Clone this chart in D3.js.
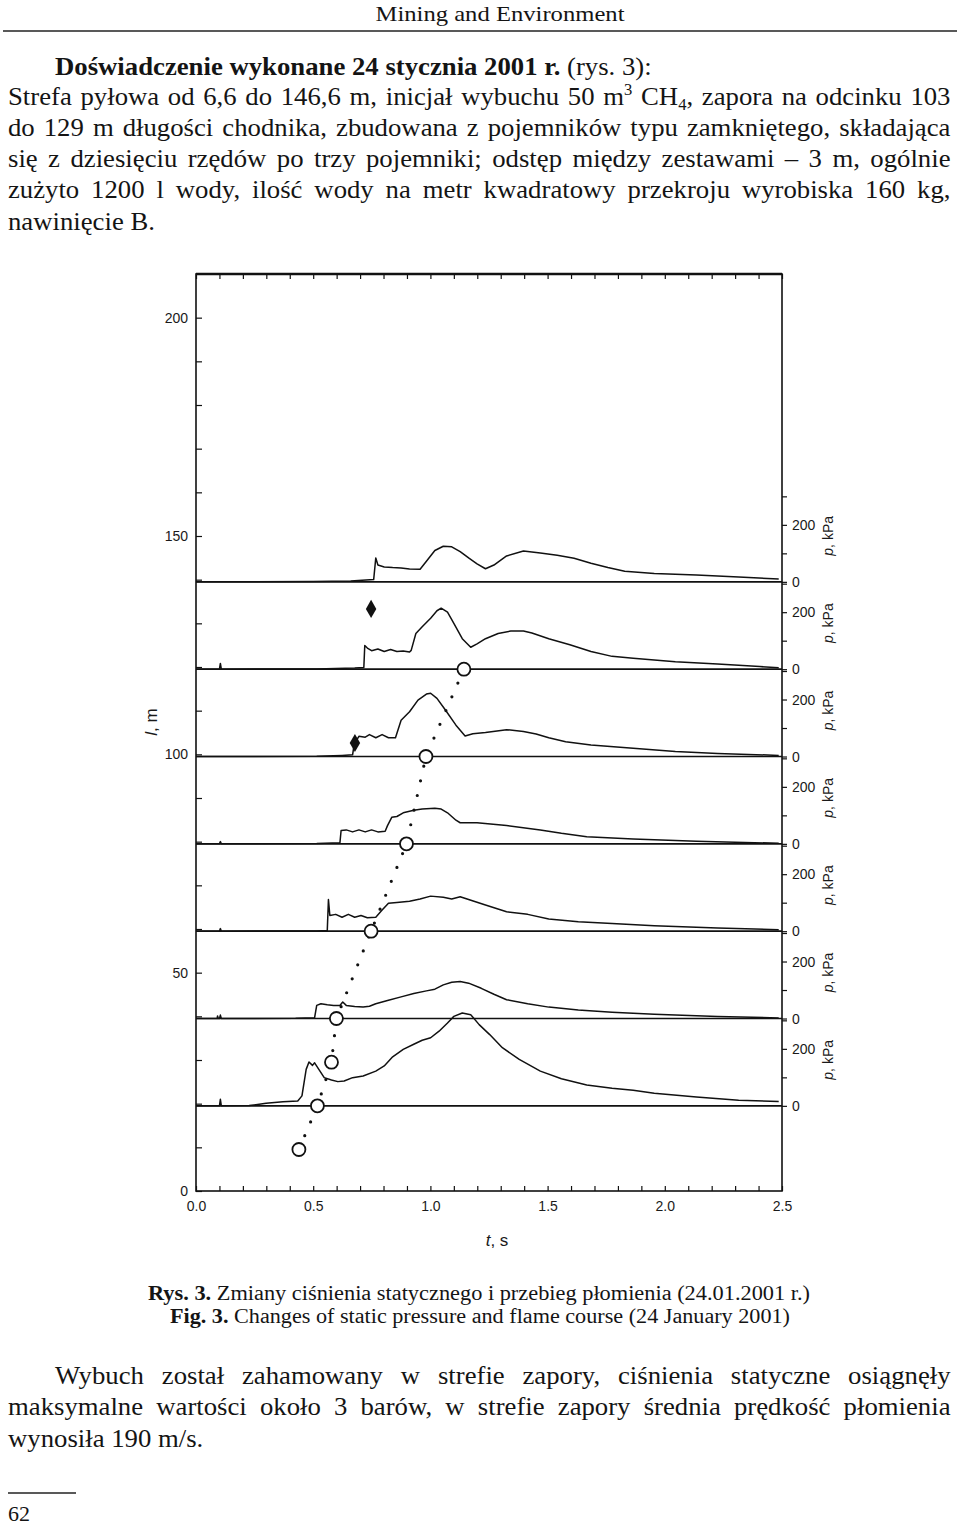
<!DOCTYPE html>
<html>
<head>
<meta charset="utf-8">
<script src="https://cdn.jsdelivr.net/npm/d3@7"></script>
<style>
body { margin: 0; background: #fff; }
svg { display: block; }
.page text { font-family: "Liberation Serif", "Times New Roman", serif; fill: #141414; }
.chart text { font-family: "Liberation Sans", Arial, sans-serif; fill: #1a1a1a; }
.chart .domain { display: none; }
.chart .tick line { stroke: #111; stroke-width: 1.2; }
</style>
</head>
<body>
<svg id="page" width="960" height="1525"></svg>
<script>
// axes
var tTicks = [0.0, 0.5, 1.0, 1.5, 2.0, 2.5];
var lTicks = [0, 50, 100, 150, 200];
var pTicks = [0, 100, 200, 300];
var pLabels = [0, 200];

// gauge positions along the gallery (m), top trace first
var gaugeL = [139.5, 119.5, 99.5, 79.5, 59.5, 39.5, 19.5];

// pressure records [t s, p kPa]
var p1 = [[0,0],[0.50,1],[0.66,3],[0.758,8],[0.767,84],[0.776,59],[0.803,52],[0.839,50],[0.875,49],[0.911,45],[0.956,44],[0.983,72],[1.019,110],[1.055,125],[1.091,123],[1.127,106],[1.163,84],[1.199,63],[1.235,46],[1.271,59],[1.325,91],[1.397,108],[1.469,101],[1.541,93],[1.613,83],[1.685,65],[1.757,50],[1.829,37],[1.955,29],[2.135,24],[2.315,17],[2.486,10]];
var p2 = [[0,0],[0.100,0],[0.104,20],[0.108,0],[0.515,1],[0.677,4],[0.716,6],[0.720,83],[0.731,74],[0.749,65],[0.776,71],[0.803,62],[0.830,69],[0.857,62],[0.884,64],[0.911,60],[0.918,66],[0.938,125],[0.965,149],[1.001,179],[1.028,205],[1.046,214],[1.073,200],[1.100,161],[1.136,107],[1.172,77],[1.199,89],[1.235,107],[1.289,125],[1.343,134],[1.397,134],[1.433,127],[1.505,107],[1.595,86],[1.685,62],[1.775,45],[1.865,38],[2.045,26],[2.225,18],[2.405,9],[2.486,5]];
var p3 = [[0,0],[0.515,1],[0.623,4],[0.668,6],[0.673,33],[0.680,51],[0.695,71],[0.722,68],[0.740,77],[0.767,66],[0.794,77],[0.821,66],[0.851,66],[0.875,127],[0.911,157],[0.947,198],[0.983,219],[1.001,222],[1.028,204],[1.064,163],[1.109,110],[1.148,72],[1.181,80],[1.235,84],[1.325,94],[1.397,88],[1.451,79],[1.505,66],[1.577,52],[1.685,40],[1.865,29],[2.045,18],[2.225,11],[2.486,4]];
var p4 = [[0,0],[0.100,0],[0.104,8],[0.108,0],[0.515,1],[0.614,4],[0.619,47],[0.641,49],[0.668,42],[0.695,49],[0.722,42],[0.749,49],[0.776,42],[0.807,44],[0.817,64],[0.835,93],[0.857,96],[0.884,109],[0.929,118],[0.965,122],[1.019,125],[1.046,122],[1.073,109],[1.109,83],[1.127,74],[1.199,74],[1.325,64],[1.469,49],[1.559,37],[1.667,25],[1.865,17],[2.135,9],[2.486,2]];
var p5 = [[0,0],[0.100,0],[0.104,9],[0.108,0],[0.515,1],[0.560,2],[0.565,111],[0.571,55],[0.596,59],[0.623,49],[0.650,59],[0.677,49],[0.704,55],[0.731,47],[0.767,49],[0.794,74],[0.821,98],[0.857,101],[0.911,105],[0.956,113],[1.001,123],[1.055,119],[1.091,113],[1.127,121],[1.163,111],[1.235,92],[1.325,68],[1.415,59],[1.505,43],[1.631,33],[1.775,27],[1.955,19],[2.225,11],[2.486,5]];
var p6 = [[0,0],[0.090,0],[0.092,9],[0.095,0],[0.100,0],[0.104,12],[0.108,0],[0.425,1],[0.506,3],[0.515,46],[0.533,52],[0.560,48],[0.587,46],[0.614,46],[0.626,58],[0.641,46],[0.677,42],[0.713,40],[0.740,43],[0.767,52],[0.821,64],[0.875,76],[0.929,88],[0.983,97],[1.019,103],[1.055,118],[1.091,127],[1.127,130],[1.163,124],[1.217,106],[1.271,85],[1.325,66],[1.415,52],[1.505,40],[1.631,30],[1.775,22],[1.955,15],[2.225,7],[2.486,2]];
var p7 = [[0,0],[0.100,0],[0.104,23],[0.108,0],[0.227,1],[0.299,9],[0.371,14],[0.434,17],[0.452,35],[0.470,128],[0.482,154],[0.497,142],[0.506,151],[0.524,128],[0.547,99],[0.578,91],[0.605,85],[0.632,87],[0.668,99],[0.713,105],[0.767,122],[0.803,140],[0.839,172],[0.884,198],[0.929,216],[0.965,230],[1.001,239],[1.037,262],[1.073,291],[1.100,314],[1.136,326],[1.172,320],[1.208,285],[1.253,250],[1.307,204],[1.379,163],[1.469,122],[1.559,95],[1.667,73],[1.775,62],[1.865,55],[1.955,44],[2.135,31],[2.315,20],[2.486,15]];
var traces = [p1, p2, p3, p4, p5, p6, p7];

// flame front (open circles) and the two filled marks
var flameT = [0.439, 0.518, 0.578, 0.599, 0.747, 0.898, 0.981, 1.143];
var flameL = [9.5, 19.5, 29.5, 39.5, 59.5, 79.5, 99.5, 119.5];
var diamondT = [0.678, 0.747];
var diamondL = [102.6, 133.3];

var svg = d3.select("#page");
svg.append("rect").attr("width", 960).attr("height", 1525).attr("fill", "#fff");

// ---------- page text ----------
var page = svg.append("g").attr("class", "page");

page.append("text").attr("x", 500).attr("y", 21).attr("text-anchor", "middle")
  .attr("font-size", 22).attr("textLength", 249).attr("lengthAdjust", "spacingAndGlyphs")
  .text("Mining and Environment");
page.append("line").attr("x1", 3).attr("x2", 957).attr("y1", 31).attr("y2", 31)
  .attr("stroke", "#222").attr("stroke-width", 1.6);

var FS = 26;
var body = [
  {x: 55, y: 75, w: null, segs: [{t: "Doświadczenie wykonane 24 stycznia 2001 r.", b: 1}, {t: " (rys. 3):"}]},
  {x: 8, y: 105, w: 943, segs: [{t: "Strefa pyłowa od 6,6 do 146,6 m, inicjał wybuchu 50 m"}, {t: "3", sup: 1}, {t: " CH"}, {t: "4", sub: 1}, {t: ", zapora na odcinku 103"}]},
  {x: 8, y: 136, w: 943, segs: [{t: "do 129 m długości chodnika, zbudowana z pojemników typu zamkniętego, składająca"}]},
  {x: 8, y: 167, w: 943, segs: [{t: "się z dziesięciu rzędów po trzy pojemniki; odstęp między zestawami – 3 m, ogólnie"}]},
  {x: 8, y: 198, w: 943, segs: [{t: "zużyto 1200 l wody, ilość wody na metr kwadratowy przekroju wyrobiska 160 kg,"}]},
  {x: 8, y: 230, w: null, segs: [{t: "nawinięcie B."}]},
  {x: 55, y: 1384, w: 896, segs: [{t: "Wybuch został zahamowany w strefie zapory, ciśnienia statyczne osiągnęły"}]},
  {x: 8, y: 1415, w: 943, segs: [{t: "maksymalne wartości około 3 barów, w strefie zapory średnia prędkość płomienia"}]},
  {x: 8, y: 1447, w: null, segs: [{t: "wynosiła 190 m/s."}]}
];

var bodyG = page.append("g");
body.forEach(function(line) {
  var t = bodyG.append("text").attr("y", line.y).attr("font-size", FS);
  var shift = 0;
  line.segs.forEach(function(s) {
    var sp = t.append("tspan").text(s.t);
    var want = s.sup ? -0.38 * FS : (s.sub ? 0.2 * FS : 0);
    if (want !== shift) { sp.attr("dy", want - shift); shift = want; }
    if (s.sup || s.sub) sp.attr("font-size", FS * 0.62);
    if (s.b) sp.attr("font-weight", "bold");
  });
  line.node = t;
  line.nat = t.node().getComputedTextLength();
});
// the scan is a bit condensed: squeeze so the tightest justified line fits
var sx = d3.min(body.filter(function(d) { return d.w; }), function(d) { return d.w / d.nat; }) * 0.975;
bodyG.attr("transform", "scale(" + sx + ",1)");
body.forEach(function(line) {
  line.node.attr("x", line.x / sx);
  if (line.w) {
    var n = (line.node.text().match(/ /g) || []).length;
    line.node.attr("word-spacing", (line.w / sx - line.nat) / n);
  }
});

// caption
var cap = page.append("g");
var c1 = cap.append("text").attr("x", 479).attr("y", 1300).attr("text-anchor", "middle")
  .attr("font-size", 20).attr("textLength", 662).attr("lengthAdjust", "spacingAndGlyphs");
c1.append("tspan").attr("font-weight", "bold").text("Rys. 3.");
c1.append("tspan").text(" Zmiany ciśnienia statycznego i przebieg płomienia (24.01.2001 r.)");
var c2 = cap.append("text").attr("x", 480).attr("y", 1323).attr("text-anchor", "middle")
  .attr("font-size", 20).attr("textLength", 620).attr("lengthAdjust", "spacingAndGlyphs");
c2.append("tspan").attr("font-weight", "bold").text("Fig. 3.");
c2.append("tspan").text(" Changes of static pressure and flame course (24 January 2001)");

page.append("line").attr("x1", 8).attr("x2", 76).attr("y1", 1493).attr("y2", 1493)
  .attr("stroke", "#222").attr("stroke-width", 1.4);
page.append("text").attr("x", 8).attr("y", 1521).attr("font-size", 22).text("62");

// ---------- chart ----------
var chart = svg.append("g").attr("class", "chart");
var x = d3.scaleLinear().domain([0, 2.5]).range([196, 782]);
var y = d3.scaleLinear().domain([0, 210]).range([1191, 274]);
var pz = d3.scaleLinear().domain([0, 200]).range([0, 57]);

function isHalf(v) { return Math.abs(v * 2 - Math.round(v * 2)) < 1e-6; }
var tMinor = d3.range(0, 26).map(function(i) { return i / 10; });

chart.append("g").attr("transform", "translate(0,1191)")
  .call(d3.axisBottom(x).tickValues(tMinor).tickSize(-5).tickPadding(10)
    .tickFormat(function(d) { return isHalf(d) && tTicks.indexOf(Math.round(d * 2) / 2) >= 0 ? d3.format(".1f")(d) : ""; }))
  .attr("font-size", 14);
chart.append("g").attr("transform", "translate(0,274)")
  .call(d3.axisTop(x).tickValues(tMinor).tickSize(-5).tickFormat(""));
chart.append("g").attr("transform", "translate(196,0)")
  .call(d3.axisLeft(y).tickValues(d3.range(0, 201, 10)).tickSize(-6).tickPadding(8)
    .tickFormat(function(d) { return lTicks.indexOf(d) >= 0 ? d : ""; }))
  .attr("font-size", 14);

chart.append("rect").attr("x", 196).attr("y", 274).attr("width", 586).attr("height", 917)
  .attr("fill", "none").attr("stroke", "#111").attr("stroke-width", 1.6);
chart.append("line").attr("x1", 196).attr("x2", 782).attr("y1", 274).attr("y2", 274)
  .attr("stroke", "#111").attr("stroke-width", 2.4);

var lineGen = d3.line();
traces.forEach(function(tr, i) {
  var base = y(gaugeL[i]);
  var ps = d3.scaleLinear().domain([0, 300]).range([base, base - pz(300)]);
  chart.append("line").attr("x1", 196).attr("x2", 782).attr("y1", base).attr("y2", base)
    .attr("stroke", "#111").attr("stroke-width", 1.7);
  chart.append("path")
    .attr("d", lineGen.x(function(d) { return x(d[0]); }).y(function(d) { return ps(d[1]); })(tr))
    .attr("fill", "none").attr("stroke", "#111").attr("stroke-width", 1.5).attr("stroke-linejoin", "round");
  chart.append("g").attr("transform", "translate(782,0)")
    .call(d3.axisRight(ps).tickValues(pTicks).tickSize(5).tickPadding(5)
      .tickFormat(function(d) { return pLabels.indexOf(d) >= 0 ? d : ""; }))
    .attr("font-size", 14);
  var lab = chart.append("text").attr("transform", "translate(833," + (base - 46) + ") rotate(-90)")
    .attr("text-anchor", "middle").attr("font-size", 14);
  lab.append("tspan").attr("font-style", "italic").text("p");
  lab.append("tspan").text(", kPa");
});

// flame course
var flame = flameT.map(function(t, i) { return [x(t), y(flameL[i])]; });
chart.append("path").attr("d", d3.line()(flame))
  .attr("fill", "none").attr("stroke", "#111").attr("stroke-width", 3.2)
  .attr("stroke-linecap", "round").attr("stroke-dasharray", "0,15");
chart.selectAll("circle.flame").data(flame).enter().append("circle")
  .attr("class", "flame").attr("cx", function(d) { return d[0]; }).attr("cy", function(d) { return d[1]; })
  .attr("r", 6.5).attr("fill", "#fff").attr("stroke", "#111").attr("stroke-width", 1.8);
chart.selectAll("path.dia").data(diamondT).enter().append("path")
  .attr("class", "dia").attr("d", d3.symbol(d3.symbolDiamond, 95))
  .attr("transform", function(d, i) { return "translate(" + x(d) + "," + y(diamondL[i]) + ")"; })
  .attr("fill", "#111");

// axis titles
var lt = chart.append("text").attr("transform", "translate(157,722) rotate(-90)")
  .attr("text-anchor", "middle").attr("font-size", 17);
lt.append("tspan").attr("font-style", "italic").text("l");
lt.append("tspan").text(", m");
var tt = chart.append("text").attr("x", 497).attr("y", 1246).attr("text-anchor", "middle").attr("font-size", 17);
tt.append("tspan").attr("font-style", "italic").text("t");
tt.append("tspan").text(", s");
</script>
</body>
</html>
